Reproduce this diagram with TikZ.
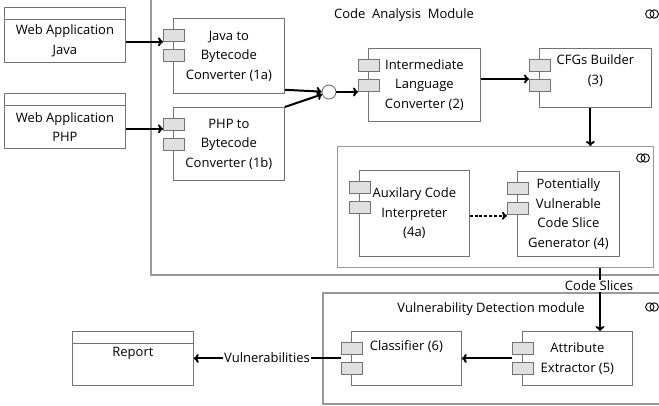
\documentclass[tikz,border=0pt]{standalone}
\usepackage{fontspec}
\setmainfont{Open Sans}
\usetikzlibrary{arrows.meta,calc}

\tikzset{
  every node/.style={font=\fontsize{13}{19.5}\selectfont},
  comp/.style={draw=black!55, line width=0.8pt, fill=white, align=center,
    inner sep=0pt, anchor=north west},
  appbox/.style={draw=black!55, line width=0.8pt, fill=white, align=center,
    inner sep=0pt, anchor=north west, minimum width=121pt},
  port/.style={draw=black!55, fill=black!12, line width=0.8pt,
    minimum width=21pt, minimum height=12pt, inner sep=0pt, anchor=north west},
  modframe/.style={draw=black!40, line width=1.2pt},
  flow/.style={line width=2pt, -{To[length=5pt,width=9pt]}},
  plainflow/.style={line width=2pt},
  lbl/.style={inner sep=1pt, fill=white},
  subsys/.pic={\draw[line width=0.9pt] (-2.2,0) circle[radius=4.2pt]
                                         (2.2,0) circle[radius=4.2pt];},
}

% two ports on the left edge of a component
\newcommand\compports[1]{%
  \node[port] (#1p1) at ([shift={(-10pt,-11pt)}]#1.north west) {};
  \node[port] (#1p2) at ([shift={(-10pt,-31pt)}]#1.north west) {};}

\begin{document}
\begin{tikzpicture}[x=1pt,y=-1pt]
\useasboundingbox (0,0) rectangle (659,406);

% module frames (running past the page edges)
\begin{scope}
  \clip (0,0) rectangle (659,406);
  \draw[modframe] (151,-10) rectangle (700,275);
  \draw[modframe] (323,293) rectangle (700,404);
\end{scope}
\node[modframe, anchor=north west, minimum width=316pt, minimum height=121pt,
      inner sep=0pt] (sub) at (337,146) {};

% module titles and subsystem icons
\node (camt) at (404,15) {Code~ Analysis~ Module};
\node (vdt) at (491,309) {Vulnerability Detection module};
\pic at (652,14) {subsys};
\pic at (643,158) {subsys};
\pic at (652,307) {subsys};

% input applications
\node[appbox, minimum height=12pt] (wjh) at (4,7) {};
\node[appbox, minimum height=43pt] (wj) at (4,19) {Web Application\\Java};
\node[appbox, minimum height=12pt] (wph) at (4,93) {};
\node[appbox, minimum height=43pt] (wp) at (4,105) {Web Application\\PHP};

% report
\node[appbox, minimum height=12pt] (reph) at (72,331) {};
\node[appbox, minimum height=42pt] (rep) at (72,343) {Report\\\strut};

% components
\node[comp, minimum width=111pt, minimum height=75pt] (ja) at (173,18)
  {Java to\\Bytecode\\Converter (1a)};
\compports{ja}
\node[comp, minimum width=111pt, minimum height=73pt] (pp) at (173,107)
  {PHP to\\Bytecode\\Converter (1b)};
\compports{pp}
\node[comp, minimum width=112pt, minimum height=73pt] (il) at (368,48)
  {Intermediate\\Language\\Converter (2)};
\compports{il}
\node[comp, minimum width=112pt, minimum height=59pt] (cfg) at (539,48)
  {CFGs Builder\\(3)\\[-9pt]\strut};
\compports{cfg}
\node[comp, minimum width=110pt, minimum height=86pt] (aux) at (359,170)
  {Auxilary Code\\Interpreter\\(4a)};
\compports{aux}
\node[comp, minimum width=102pt, minimum height=85pt] (pv) at (517,171)
  {Potentially\\Vulnerable\\Code Slice\\Generator (4)};
\compports{pv}
\node[comp, minimum width=110pt, minimum height=54pt] (cls) at (351,331)
  {Classifier (6)\\\strut};
\compports{cls}
\node[comp, minimum width=110pt, minimum height=54pt] (ae) at (522,331)
  {Attribute\\Extractor (5)};
\compports{ae}

% junction of the two bytecode streams
\node[circle, draw=black!60, line width=0.8pt, fill=white, minimum size=14pt,
      inner sep=0pt] (jn) at (329,92) {};

% connectors
\draw[flow] (jap1.south west -| wj.east) -- (jap1.south west);
\draw[flow] ([yshift=2pt]ppp1.south west -| wp.east) -- ([yshift=2pt]ppp1.south west);
\draw[flow] ([yshift=4pt]ja.south east) -- (jn);
\draw[flow] (pp.north east) -- (jn);
\draw[flow] (jn.east) -- (jn.east -| ilp2.west);
\draw[flow] (cfgp2.north west -| il.east) -- (cfgp2.north west);
\draw[flow] ([xshift=-5pt]cfg.south) -- ([xshift=-5pt]cfg.south |- sub.north);
\draw[line width=1.8pt, dash pattern=on 3pt off 1.8pt, -{To[length=5pt,width=8pt]}]
  ([yshift=-1pt]pvp2.south west -| aux.east) -- ([yshift=-1pt]pvp2.south west);

\coordinate (csx) at (600,0);
\node[lbl] (cs) at (599,286) {Code Slices};
\draw[plainflow] (sub.south -| csx) -- (cs.north -| csx);
\draw[flow] (cs.south -| csx) -- (ae.north -| csx);

\coordinate (aem) at ($(aep1.south west)!.5!(aep2.north west)$);
\draw[flow] (aem) -- (aem -| cls.east);

\coordinate (clm) at ($(clsp1.south west)!.5!(clsp2.north west)$);
\node[lbl] (vul) at (267,358) {Vulnerabilities};
\draw[plainflow] (clm) -- (vul.east |- clm);
\draw[flow] (vul.west |- clm) -- (rep.east |- clm);
\end{tikzpicture}
\end{document}
